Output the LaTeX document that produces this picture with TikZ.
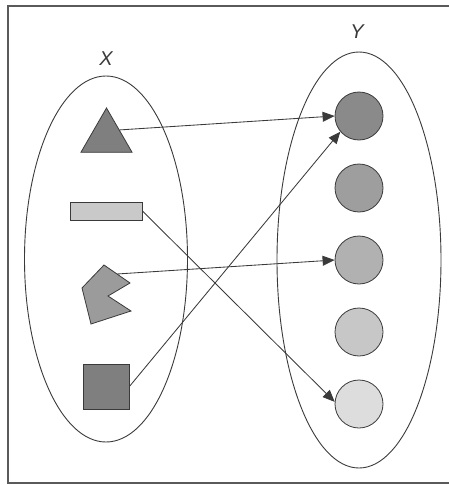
\documentclass[tikz,border=0pt]{standalone}
\usepackage{fontspec}
\usepackage{tikz}
\usetikzlibrary{shapes.geometric,arrows.meta,positioning}
\newfontfamily\setlabelfont{Liberation Sans}
\definecolor{SetLine}{HTML}{3A3A3A}
\definecolor{FrameGray}{HTML}{5A5A5A}
\definecolor{ShapeDark}{HTML}{7F7F7F}
\definecolor{ShapeMid}{HTML}{9A9B9A}
\definecolor{ShapeLight}{HTML}{C8C9C8}
\definecolor{DotA}{HTML}{8A8A8A}
\definecolor{DotB}{HTML}{9D9E9D}
\definecolor{DotC}{HTML}{B0B1B0}
\definecolor{DotD}{HTML}{C6C7C6}
\definecolor{DotE}{HTML}{DCDDDC}

\tikzset{
  setoval/.style={ellipse, draw=SetLine, line width=0.9pt, inner sep=0pt},
  setname/.style={font=\setlabelfont\itshape\fontsize{20}{20}\selectfont, SetLine},
  elem/.style={draw=SetLine, line width=0.8pt, inner sep=0pt},
  dot/.style={elem, circle, minimum size=48pt},
  mapsto/.style={SetLine, line width=0.85pt, -{Triangle[length=12pt,width=10pt]}}
}

\begin{document}
\begin{tikzpicture}[x=1pt,y=-1pt]
  \useasboundingbox (0,0) rectangle (449,485);
  \clip (0,0) rectangle (449,485);
  % frame
  \draw[FrameGray, line width=1.4pt] (8,6) rectangle (452,483);

  % the two sets
  \node[setoval, minimum width=163pt, minimum height=366pt] (setX) at (106,259) {};
  \node[setoval, minimum width=164pt, minimum height=416pt] (setY) at (359,260) {};
  \node[setname] (labX) at (106,59) {X};
  \node[setname] (labY) at (357,32) {Y};

  % domain elements
  \node[elem, regular polygon, regular polygon sides=3, minimum size=59pt,
        fill=ShapeDark] (tri) at (106.5,137.5) {};
  \node[elem, rectangle, minimum width=72pt, minimum height=18pt,
        fill=ShapeLight] (bar) at (106,211) {};
  \draw[elem, fill=ShapeMid] (104,265) -- (130,283) -- (108,296) -- (131,311)
    -- (91,324) -- (82,288) -- cycle;
  \coordinate (pac) at (117,274);
  \node[elem, rectangle, minimum width=46pt, minimum height=45pt,
        fill=ShapeDark] (sq) at (106,386.5) {};

  % codomain elements
  \node[dot, fill=DotA] (y1) at (359,116) {};
  \node[dot, fill=DotB] (y2) at (359,188) {};
  \node[dot, fill=DotC] (y3) at (359,260) {};
  \node[dot, fill=DotD] (y4) at (359,332) {};
  \node[dot, fill=DotE] (y5) at (359,404) {};

  % the mapping
  \draw[mapsto] (tri.side 3) -- (y1.west);
  \draw[mapsto] (bar.east) -- (y5.175);
  \draw[mapsto] (pac) -- (y3.west);
  \draw[mapsto] (sq.east) -- (y1.220);
\end{tikzpicture}
\end{document}
